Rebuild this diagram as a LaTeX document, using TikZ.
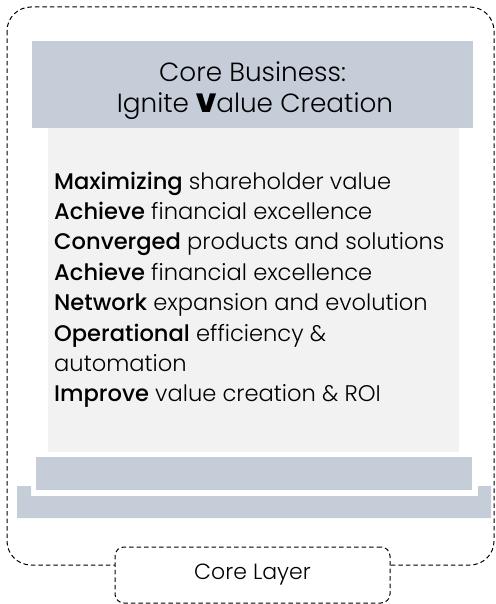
\documentclass[tikz,border=0pt]{standalone}
\usepackage{fontspec}
\setmainfont{Poppins Light}[BoldFont={Poppins Medium}]
\newfontfamily\heavyfont{Poppins Black}
\usetikzlibrary{positioning}

\definecolor{slate}{HTML}{C5CDD8}
\definecolor{paper}{HTML}{F2F2F2}

\begin{document}
\begin{tikzpicture}[x=1pt,y=-1pt,
  layerline/.style={black,dashed,dash pattern=on 4.5pt off 3pt,line width=1pt},
  item/.style={anchor=base west,inner sep=0pt,font=\fontsize{22.6}{26}\selectfont},
  headline/.style={anchor=base,inner sep=0pt,font=\fontsize{26.3}{30}\selectfont}]

\useasboundingbox (0,0) rectangle (495,604);

%draw outer layer frame
\draw[layerline,rounded corners=24pt] (7,7) rectangle (494,565);

%draw base trays
\fill[slate] (17,486) -- (31,486) -- (31,496) -- (478,496) -- (478,486) -- (491,486) -- (491,518) -- (17,518) -- cycle;
\fill[slate] (36,457) rectangle (472,490);

%draw text panel and header
\fill[paper] (48,128) rectangle (459,452);
\fill[slate] (32,41) rectangle (473,128);

%label header
\node[headline] (head1) at (252.5,82) {Core Business:};
\node[headline] (head2) at (255,113) {Ignite {\heavyfont V}alue Creation};

%list goals
\foreach \b/\t [count=\i] in {Maximizing/shareholder value,
                              Achieve/financial excellence,
                              Converged/products and solutions,
                              Achieve/financial excellence,
                              Network/expansion and evolution,
                              Operational/efficiency \&}
  {
  \node[item] (goal\i) at (54,158.6+30.4*\i) {\textbf{\b} \t};
  }
\node[item] (goal7) at (54,158.6+30.4*7) {automation};
\node[item] (goal8) at (54,158.6+30.4*8) {\textbf{Improve} value creation \& ROI};

%label layer
\node[layerline,draw,fill=white,rounded corners=9pt,minimum width=275pt,minimum height=56pt,
  font=\fontsize{22}{26}\selectfont] (layer) at (252.5,575) {Core Layer};

\end{tikzpicture}
\end{document}
